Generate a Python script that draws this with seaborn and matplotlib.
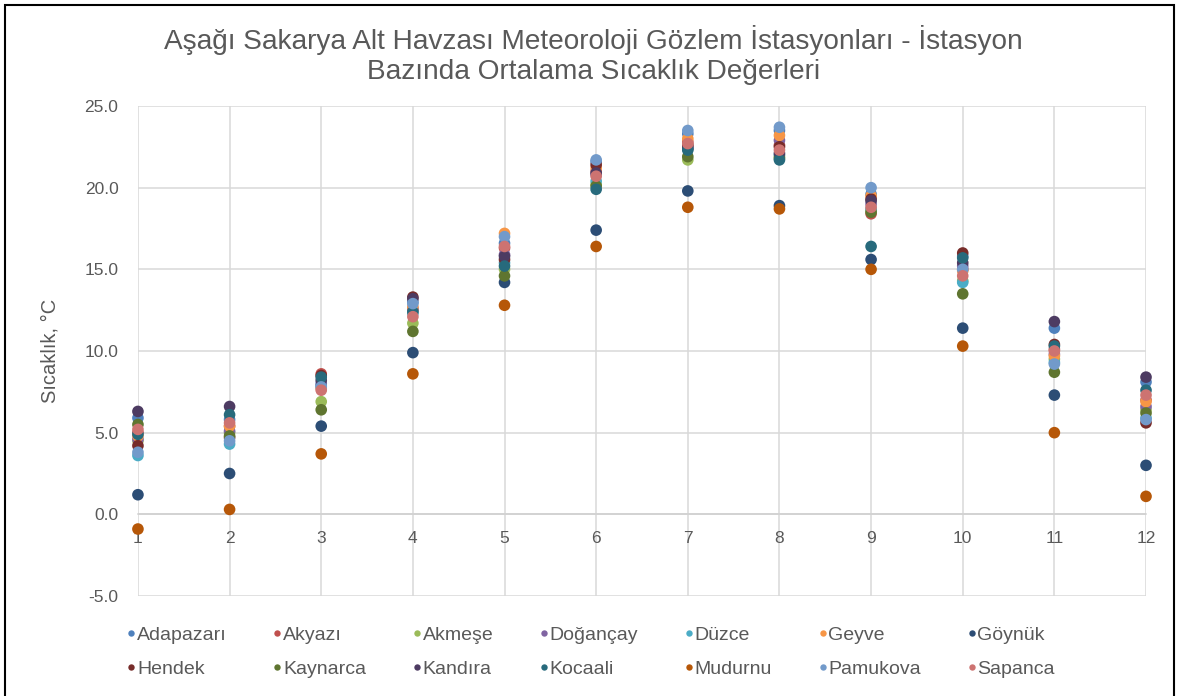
import matplotlib
matplotlib.use("Agg")
import matplotlib.pyplot as plt
import pandas as pd
import seaborn as sns
from matplotlib.patches import Rectangle

months = [1, 2, 3, 4, 5, 6, 7, 8, 9, 10, 11, 12]

adapazari = [5.9, 5.8, 8.0, 13.0, 16.6, 21.6, 23.3, 23.5, 19.6, 15.8, 11.4, 8.1]
akyazi = [5.0, 5.4, 8.6, 12.5, 16.3, 21.0, 22.8, 22.6, 18.4, 15.0, 10.1, 7.0]
akmese = [4.5, 5.0, 6.9, 11.7, 15.0, 20.2, 21.7, 21.9, 18.6, 14.3, 9.5, 6.4]
dogancay = [4.6, 5.1, 7.9, 12.6, 15.9, 20.8, 22.5, 22.9, 19.0, 15.2, 9.8, 6.6]
duzce = [3.6, 4.3, 7.8, 12.3, 15.4, 20.4, 22.4, 22.0, 18.7, 14.2, 9.3, 5.9]
geyve = [4.8, 5.4, 7.7, 12.7, 17.2, 21.2, 23.0, 23.2, 19.5, 14.9, 9.7, 6.9]
goynuk = [1.2, 2.5, 5.4, 9.9, 14.2, 17.4, 19.8, 18.9, 15.6, 11.4, 7.3, 3.0]
hendek = [4.2, 4.7, 8.5, 13.3, 15.6, 21.4, 22.6, 22.5, 19.3, 16.0, 10.4, 5.6]
kaynarca = [5.5, 4.8, 6.4, 11.2, 14.6, 20.1, 21.9, 21.8, 18.5, 13.5, 8.7, 6.2]
kandira = [6.3, 6.6, 8.2, 13.2, 15.8, 20.9, 22.4, 22.1, 19.2, 15.4, 11.8, 8.4]
kocaali = [4.9, 6.1, 8.4, 12.4, 15.2, 19.9, 22.3, 21.7, 16.4, 15.7, 10.3, 7.6]
mudurnu = [-0.9, 0.3, 3.7, 8.6, 12.8, 16.4, 18.8, 18.7, 15.0, 10.3, 5.0, 1.1]
pamukova = [3.8, 4.5, 7.8, 12.9, 17.0, 21.7, 23.5, 23.7, 20.0, 15.0, 9.2, 5.8]
sapanca = [5.2, 5.6, 7.6, 12.1, 16.4, 20.7, 22.7, 22.3, 18.8, 14.6, 10.0, 7.3]

stations = ["Adapazarı", "Akyazı", "Akmeşe", "Doğançay", "Düzce", "Geyve", "Göynük",
            "Hendek", "Kaynarca", "Kandıra", "Kocaali", "Mudurnu", "Pamukova", "Sapanca"]
series = [adapazari, akyazi, akmese, dogancay, duzce, geyve, goynuk,
          hendek, kaynarca, kandira, kocaali, mudurnu, pamukova, sapanca]
colors = ["#4F81BD", "#C0504D", "#9BBB59", "#8064A2", "#4BACC6", "#F79646", "#2C4D75",
          "#772C2A", "#5F7530", "#4D3B62", "#276A7C", "#B65708", "#729ACA", "#CD7371"]

rows = []
for name, vals in zip(stations, series):
    for m, v in zip(months, vals):
        rows.append({"ay": m, "sicaklik": v, "istasyon": name})
df = pd.DataFrame(rows)

sns.set_style("white")
plt.rcParams['font.family'] = ['Liberation Sans', 'DejaVu Sans']
text_col = "#595959"

fig = plt.figure(figsize=(11.8, 6.96), dpi=100)
ax = fig.add_axes([0.1169, 0.1437, 0.8543, 0.704])

sns.scatterplot(data=df, x="ay", y="sicaklik", hue="istasyon", hue_order=stations,
                palette=colors, s=70, edgecolor="none", linewidth=0, ax=ax,
                clip_on=False, zorder=3)

ax.set_xlim(1, 12)
ax.set_ylim(-5, 25)
ax.set_xticks(months)
ax.set_yticks([-5, 0, 5, 10, 15, 20, 25])
ax.set_yticklabels([f"{v:.1f}" for v in [-5, 0, 5, 10, 15, 20, 25]])
ax.grid(True, color="#D9D9D9", linewidth=1.1)
ax.set_axisbelow(True)

for side in ["top", "right", "left"]:
    ax.spines[side].set_visible(False)
ax.spines["bottom"].set_position(("data", 0))
ax.spines["bottom"].set_color("#D0D0D0")
ax.spines["bottom"].set_linewidth(1.1)

ax.tick_params(axis="x", length=0, pad=12, labelsize=12.5, labelcolor=text_col)
ax.tick_params(axis="y", length=0, pad=14, labelsize=12.5, labelcolor=text_col)
ax.set_xlabel("")
ax.set_ylabel("Sıcaklık, °C", fontsize=14.5, color=text_col, labelpad=18)

fig.text(0.503, 0.921, "Aşağı Sakarya Alt Havzası Meteoroloji Gözlem İstasyonları - İstasyon\n"
         "Bazında Ortalama Sıcaklık Değerleri", ha="center", va="center",
         fontsize=20.2, color=text_col, linespacing=1.2)

# legend row by row, as in the original (matplotlib fills columns first)
handles, labels = ax.get_legend_handles_labels()
ax.legend_.remove()
ncol = 7
order = [r * ncol + c for c in range(ncol) for r in range(2)]
leg = fig.legend([handles[i] for i in order], [labels[i] for i in order],
                 loc="center", bbox_to_anchor=(0.4985, 0.063), ncol=ncol,
                 frameon=False, fontsize=14, markerscale=0.55, handletextpad=-0.2,
                 columnspacing=2.1, labelspacing=0.85, handlelength=1.0)
for t in leg.get_texts():
    t.set_color(text_col)

fig.patches.append(Rectangle((0.004, -0.05), 0.991, 1.043, transform=fig.transFigure,
                             fill=False, edgecolor="black", linewidth=1.5))

fig.savefig("out.png", dpi=100)
